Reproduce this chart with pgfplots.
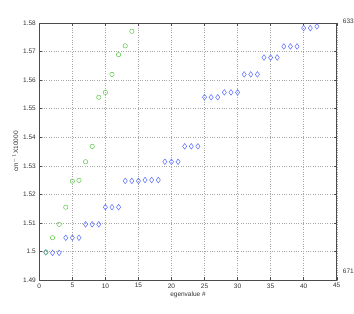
\documentclass[border=0pt]{standalone}
\usepackage{pgfplots}
\pgfplotsset{compat=1.18}
\usepackage{fontspec}
\setmainfont{Liberation Sans}
\definecolor{mgreen}{RGB}{90,200,70}
\definecolor{mblue}{RGB}{90,110,255}
\begin{document}
\begin{tikzpicture}
\begin{axis}[name=ax, at={(0,0)}, anchor=south west,
  scale only axis, width=297.4pt, height=257pt,
  xmin=0, xmax=45, ymin=1.49, ymax=1.58,
  xtick={0,5,...,45},
  ytick={1.49,1.50,...,1.58},
  yticklabels={1.49,1.5,1.51,1.52,1.53,1.54,1.55,1.56,1.57,1.58},
  tick align=inside, major tick length=3pt,
  tick style={black!70, line width=0.4pt},
  axis line style={black!70, line width=0.5pt},
  grid=major, grid style={dotted, black!35, line width=0.4pt},
  tick label style={font=\fontsize{6.5}{7}\selectfont, text=black!80},
  /pgf/number format/assume math mode=true,
  xlabel={egenvalue \#}, ylabel={cm$^{-1}$X10000},
  label style={font=\fontsize{6.5}{7}\selectfont, text=black!80},
  xlabel style={yshift=3pt},
  ylabel style={yshift=-2pt},
  clip=false,
]
\addplot[only marks, mark=diamond, mark size=2.8pt, mblue, line width=0.5pt] coordinates {
(1,1.4997)(2,1.4995)(3,1.4995)
(4,1.5048)(5,1.5048)(6,1.5048)
(7,1.5095)(8,1.5095)(9,1.5095)
(10,1.5155)(11,1.5155)(12,1.5155)
(13,1.5247)(14,1.5247)(15,1.5247)
(16,1.5250)(17,1.5250)(18,1.5250)
(19,1.5314)(20,1.5314)(21,1.5314)
(22,1.5368)(23,1.5368)(24,1.5368)
(25,1.5540)(26,1.5540)(27,1.5540)
(28,1.5557)(29,1.5557)(30,1.5557)
(31,1.5620)(32,1.5620)(33,1.5620)
(34,1.5679)(35,1.5679)(36,1.5679)
(37,1.5718)(38,1.5718)(39,1.5718)
(40,1.5782)(41,1.5782)(42,1.5788)
};
\addplot[only marks, mark=o, mark size=2.2pt, mgreen, line width=0.5pt] coordinates {
(1,1.4997)(2,1.5048)(3,1.5095)(4,1.5155)(5,1.5246)(6,1.5249)(7,1.5314)
(8,1.5368)(9,1.5540)(10,1.5557)(11,1.5620)(12,1.5689)(13,1.5720)(14,1.5771)
};
\end{axis}
\node[anchor=west, font=\fontsize{6.5}{7}\selectfont, text=black!80, inner sep=0pt] at ([xshift=6pt,yshift=2pt]ax.north east) {633};
\node[anchor=west, font=\fontsize{6.5}{7}\selectfont, text=black!80, inner sep=0pt] at ([xshift=6pt,yshift=9pt]ax.south east) {671};
\pgfresetboundingbox
\path ([xshift=-39.3pt,yshift=-34pt]ax.south west) rectangle ([xshift=17.3pt,yshift=23pt]ax.north east);
\end{tikzpicture}
\end{document}
